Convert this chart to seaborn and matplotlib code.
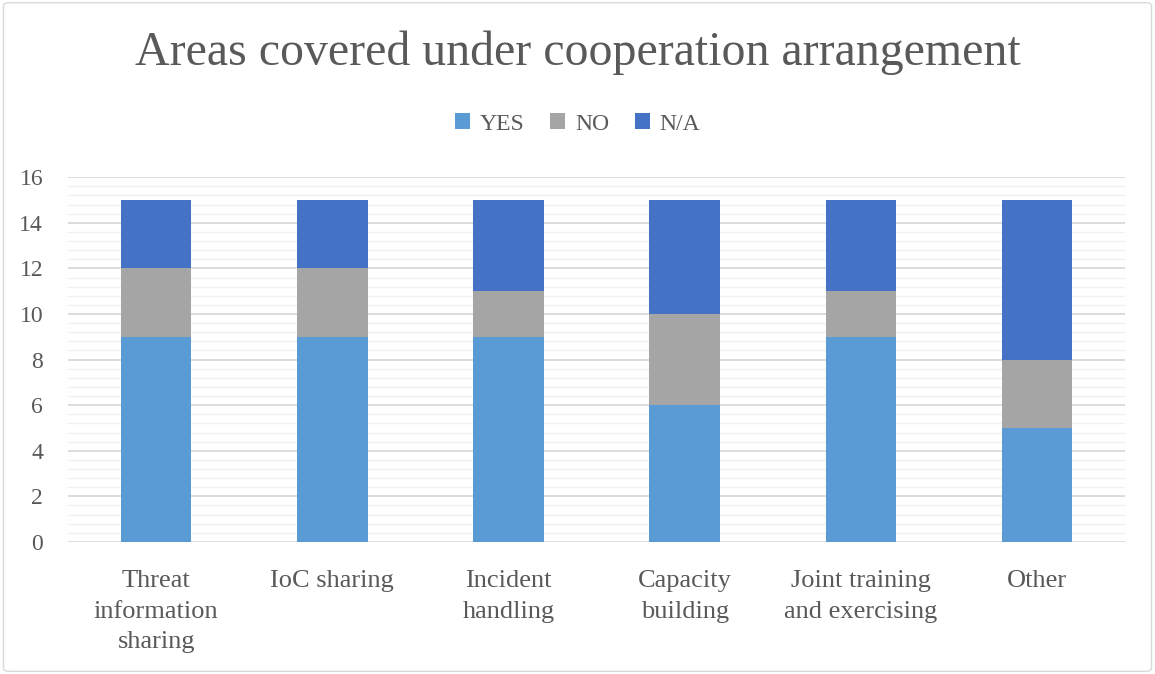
import matplotlib
matplotlib.use("Agg")
import matplotlib.pyplot as plt
import seaborn as sns
import numpy as np
import pandas as pd
from matplotlib.patches import Patch, FancyBboxPatch
from matplotlib.ticker import MultipleLocator

categories = ["Threat\ninformation\nsharing", "IoC sharing", "Incident\nhandling",
              "Capacity\nbuilding", "Joint training\nand exercising", "Other"]
yes_vals = [9, 9, 9, 6, 9, 5]
no_vals = [3, 3, 2, 4, 2, 3]
na_vals = [3, 3, 4, 5, 4, 7]
series_names = ["YES", "NO", "N/A"]
colors = ["#5B9BD5", "#A5A5A5", "#4472C4"]

sns.set_theme(style="white")
plt.rcParams['font.family'] = ['Liberation Serif', 'DejaVu Serif']
text_color = "#595959"

fig = plt.figure(figsize=(11.55, 6.74), dpi=100)
ax = fig.add_axes([0.059, 0.196, 0.915, 0.541])

yes = np.array(yes_vals)
no = np.array(no_vals)
na = np.array(na_vals)
layers = [("N/A", yes + no + na, colors[2]), ("NO", yes + no, colors[1]), ("YES", yes, colors[0])]
for name, vals, col in layers:
    df = pd.DataFrame({"cat": categories, "val": vals})
    sns.barplot(data=df, x="cat", y="val", color=col, width=0.4, ax=ax,
                saturation=1, zorder=3, edgecolor="none")

ax.set_ylim(0, 16)
ax.set_xlim(-0.5, 5.5)
ax.yaxis.set_major_locator(MultipleLocator(2))
ax.yaxis.set_minor_locator(MultipleLocator(0.4))
ax.grid(axis="y", which="major", color="#D9D9D9", linewidth=1.3, zorder=0)
ax.grid(axis="y", which="minor", color="#F0F0F0", linewidth=1.0, zorder=0)
ax.set_axisbelow(True)
for s in ax.spines.values():
    s.set_visible(False)
ax.set_xlabel("")
ax.set_ylabel("")
ax.tick_params(axis="both", which="both", length=0)
ax.tick_params(axis="y", labelsize=17, labelcolor=text_color, pad=18)
ax.tick_params(axis="x", labelsize=19, labelcolor=text_color, pad=20)
for lbl in ax.get_xticklabels():
    lbl.set_linespacing(1.52)

fig.text(0.5, 0.922, "Areas covered under cooperation arrangement", ha="center", va="center",
         fontsize=34.5, color=text_color)

handles = [Patch(facecolor=c, edgecolor="none") for c in colors]
fig.legend(handles, series_names, loc="center", bbox_to_anchor=(0.5, 0.816), ncol=3,
           frameon=False, fontsize=17, handlelength=0.65, handleheight=0.65,
           handletextpad=0.4, columnspacing=1.1, labelcolor=text_color)

border = FancyBboxPatch((0.003, 0.004), 0.994, 0.992, boxstyle="round,pad=0,rounding_size=0.005",
                        transform=fig.transFigure, facecolor="none", edgecolor="#D9D9D9",
                        linewidth=1.0)
fig.patches.append(border)

fig.savefig("out.png", dpi=100, facecolor="white")
